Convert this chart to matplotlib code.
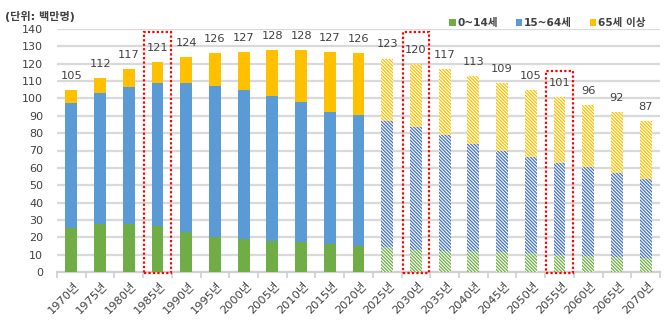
import matplotlib
matplotlib.use("Agg")
import matplotlib.pyplot as plt
import matplotlib.transforms as mtransforms
from matplotlib.patches import Rectangle, Patch
import numpy as np

plt.rcParams['font.family'] = ['DejaVu Sans', 'Noto Sans CJK KR']
plt.rcParams['hatch.linewidth'] = 0.9

years = ["1970년", "1975년", "1980년", "1985년", "1990년", "1995년", "2000년", "2005년",
         "2010년", "2015년", "2020년", "2025년", "2030년", "2035년", "2040년", "2045년",
         "2050년", "2055년", "2060년", "2065년", "2070년"]
young = [25.5, 27.6, 27.8, 26.3, 23.0, 20.2, 18.8, 17.9, 17.3, 16.3, 15.2,
         14.2, 12.7, 12.1, 12.1, 11.3, 10.7, 9.8, 9.4, 8.8, 8.3]
working = [71.7, 75.5, 78.8, 82.4, 85.7, 86.9, 86.2, 83.7, 80.8, 76.0, 75.2,
           72.8, 70.6, 66.8, 61.6, 58.4, 55.7, 53.2, 50.9, 48.0, 45.1]
elderly = [7.8, 8.9, 10.4, 12.3, 15.3, 18.9, 22.0, 26.4, 29.9, 34.7, 35.6,
           36.0, 36.7, 38.1, 39.3, 39.3, 38.6, 38.0, 35.7, 35.2, 33.6]
totals = [105, 112, 117, 121, 124, 126, 127, 128, 128, 127, 126,
          123, 120, 117, 113, 109, 105, 101, 96, 92, 87]
series_names = ["0~14세", "15~64세", "65세 이상"]
first_projected = "2025년"
highlighted = {"1985년": 138, "2030년": 138, "2055년": 116}

colors = ["#70ad47", "#5b9bd5", "#ffc000"]
hatch_colors = ["#70ad47", "#4472c4", "#ffc000"]

fig = plt.figure(figsize=(6.67, 3.23), dpi=100)
ax = fig.add_axes([57/667, 1-272/323, (660-57)/667, (272-29)/323])

x = np.arange(len(years))
proj_start = years.index(first_projected)
w = 0.41
series = [young, working, elderly]
bottom = np.zeros(len(years))
for vals, col, hcol in zip(series, colors, hatch_colors):
    vals = np.array(vals)
    for i in range(len(years)):
        if i < proj_start:
            ax.bar(x[i], vals[i], w, bottom=bottom[i], color=col, linewidth=0, zorder=3)
        else:
            ax.bar(x[i], vals[i], w, bottom=bottom[i], facecolor='white',
                   edgecolor=hcol, hatch='\\' * 10, linewidth=0, zorder=3)
    bottom += vals

for i, t in enumerate(totals):
    ax.annotate(str(t), (x[i], bottom[i]), xytext=(0, 6.5), textcoords='offset points',
                ha='center', va='bottom', fontsize=8.2, color='#404040')

for name, top in highlighted.items():
    i = years.index(name)
    ax.add_patch(Rectangle((i - 0.465, -0.4), 0.93, top + 0.4, fill=False,
                           edgecolor='#ff0000', linestyle=(0, (1, 1)), linewidth=1.6,
                           clip_on=False, zorder=5))

ax.set_ylim(0, 140)
ax.set_xlim(-0.5, len(years) - 0.5)
ax.set_yticks(np.arange(0, 141, 10))
ax.yaxis.grid(True, color='#d9d9d9', linewidth=1.6, zorder=0)
ax.set_axisbelow(True)
for s in ['top', 'right', 'left']:
    ax.spines[s].set_visible(False)
ax.spines['bottom'].set_color('#d0d0d0')
ax.spines['bottom'].set_linewidth(1.6)
ax.tick_params(axis='y', length=0, labelsize=8, labelcolor='#404040', pad=10)

ax.set_xticks(x)
ax.set_xticklabels(years, rotation=45, ha='right', rotation_mode='anchor',
                   fontsize=8.2, color='#404040')
ax.tick_params(axis='x', which='major', length=0, pad=2)
ax.set_xticks(np.arange(-0.5, len(years), 1), minor=True)
ax.tick_params(axis='x', which='minor', length=4, color='#d0d0d0', width=1.2)
offset = mtransforms.ScaledTranslation(2/100, -5/100, fig.dpi_scale_trans)
for lab in ax.get_xticklabels():
    lab.set_transform(lab.get_transform() + offset)

handles = [Patch(facecolor=c, edgecolor='none') for c in colors]
leg = fig.legend(handles, series_names, loc='center left', bbox_to_anchor=(442/667, 1-23/323),
                 ncol=3, frameon=False, handlelength=0.6, handleheight=0.6,
                 handletextpad=0.15, columnspacing=1.7, borderpad=0.2,
                 prop={'size': 7.6, 'weight': 'bold'})
for t in leg.get_texts():
    t.set_color('#404040')

fig.text(5/667, 1-16/323, "(단위: 백만명)", fontsize=8, fontweight='bold',
         color='#404040', ha='left', va='center')

fig.savefig("out.png", dpi=100)
